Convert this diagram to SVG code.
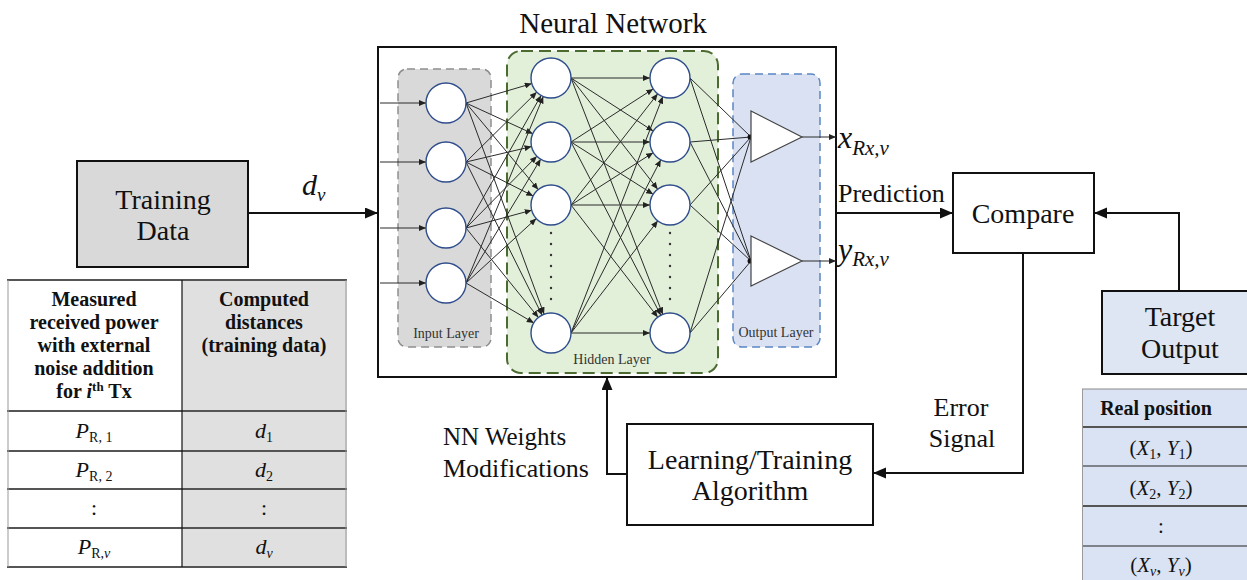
<svg xmlns="http://www.w3.org/2000/svg" width="1247" height="580" viewBox="0 0 1247 580" font-family="'Liberation Serif', 'DejaVu Serif', serif">
<style>
text{font-family:'Liberation Serif','DejaVu Serif',serif}
.t{fill:#111}
.c{text-anchor:middle}
.box{fill:#fff;stroke:#111;stroke-width:2}
.neu{fill:#fff;stroke:#2f4d8c;stroke-width:1.4}
.w{stroke:#2b2b2b;stroke-width:1;fill:none;marker-end:url(#sa)}
.w2{stroke:#2b2b2b;stroke-width:1;fill:none}
.arr{stroke:#111;stroke-width:2;fill:none;marker-end:url(#la)}
.grid{stroke:#555;stroke-width:2}
.lbl{font-size:14px;fill:#333}
.big{font-size:28px}
.hd{font-size:20px;font-weight:bold}
</style>
<defs>
<marker id="sa" markerUnits="userSpaceOnUse" markerWidth="8" markerHeight="6" refX="7" refY="3" orient="auto"><path d="M0,0 L7,3 L0,6 z" fill="#222"/></marker>
<marker id="la" markerUnits="userSpaceOnUse" markerWidth="14" markerHeight="12" refX="13" refY="5.5" orient="auto"><path d="M0,0 L13,5.5 L0,11 z" fill="#111"/></marker>
</defs>

<text class="t c" x="613" y="33" font-size="29">Neural Network</text>

<g id="neural-network">
<rect x="378" y="47" width="458" height="330" class="box"/>
<rect x="398" y="69" width="93" height="278" rx="9" fill="#d9d9d9" stroke="#8e8e8e" stroke-width="1.5" stroke-dasharray="8 5"/>
<rect x="507" y="51" width="211" height="322" rx="14" fill="#e2efd9" stroke="#4b6b30" stroke-width="2" stroke-dasharray="12 6"/>
<rect x="733" y="74" width="87" height="273" rx="9" fill="#d9e1f2" stroke="#5b87c5" stroke-width="1.5" stroke-dasharray="8 5"/>
<text class="t c lbl" x="446" y="338">Input Layer</text>
<text class="t c lbl" x="612" y="364">Hidden Layer</text>
<text class="t c lbl" x="776" y="337">Output Layer</text>
</g>

<g id="nn-weights">
<line class="w" x1="380" y1="103" x2="426" y2="103"/>
<line class="w" x1="380" y1="162" x2="426" y2="162"/>
<line class="w" x1="380" y1="228" x2="426" y2="228"/>
<line class="w" x1="380" y1="283" x2="426" y2="283"/>
<line class="w" x1="466" y1="103" x2="531.8" y2="83.6"/>
<line class="w" x1="466" y1="103" x2="532.8" y2="133.7"/>
<line class="w" x1="466" y1="103" x2="538.2" y2="189.6"/>
<line class="w" x1="466" y1="103" x2="544.1" y2="314.2"/>
<line class="w" x1="466" y1="162" x2="536.8" y2="92.1"/>
<line class="w" x1="466" y1="162" x2="531.5" y2="146.6"/>
<line class="w" x1="466" y1="162" x2="533.2" y2="196.0"/>
<line class="w" x1="466" y1="162" x2="542.1" y2="315.1"/>
<line class="w" x1="466" y1="228" x2="541.1" y2="95.4"/>
<line class="w" x1="466" y1="228" x2="536.9" y2="156.2"/>
<line class="w" x1="466" y1="228" x2="531.7" y2="210.2"/>
<line class="w" x1="466" y1="228" x2="538.4" y2="317.5"/>
<line class="w" x1="466" y1="283" x2="543.3" y2="96.5"/>
<line class="w" x1="466" y1="283" x2="540.7" y2="159.1"/>
<line class="w" x1="466" y1="283" x2="536.3" y2="218.5"/>
<line class="w" x1="466" y1="283" x2="533.8" y2="322.9"/>
<line class="w" x1="571" y1="78" x2="650" y2="78"/>
<line class="w" x1="571" y1="78" x2="653.2" y2="131.1"/>
<line class="w" x1="571" y1="78" x2="657.7" y2="189.2"/>
<line class="w" x1="571" y1="78" x2="662.8" y2="314.4"/>
<line class="w" x1="571" y1="142" x2="653.2" y2="88.9"/>
<line class="w" x1="571" y1="142" x2="650" y2="142"/>
<line class="w" x1="571" y1="142" x2="653.1" y2="194.3"/>
<line class="w" x1="571" y1="142" x2="660.8" y2="315.2"/>
<line class="w" x1="571" y1="205" x2="657.7" y2="93.8"/>
<line class="w" x1="571" y1="205" x2="653.1" y2="152.7"/>
<line class="w" x1="571" y1="205" x2="650" y2="205"/>
<line class="w" x1="571" y1="205" x2="657.8" y2="317.2"/>
<line class="w" x1="571" y1="333" x2="662.8" y2="96.6"/>
<line class="w" x1="571" y1="333" x2="660.8" y2="159.8"/>
<line class="w" x1="571" y1="333" x2="657.8" y2="220.8"/>
<line class="w" x1="571" y1="333" x2="650" y2="333"/>
<line class="w2" x1="690" y1="78" x2="751" y2="137"/>
<line class="w2" x1="690" y1="142" x2="751" y2="137"/>
<line class="w2" x1="690" y1="205" x2="751" y2="137"/>
<line class="w2" x1="690" y1="333" x2="751" y2="137"/>
<line class="w2" x1="690" y1="78" x2="751" y2="261"/>
<line class="w2" x1="690" y1="142" x2="751" y2="261"/>
<line class="w2" x1="690" y1="205" x2="751" y2="261"/>
<line class="w2" x1="690" y1="333" x2="751" y2="261"/>
<circle cx="750" cy="137" r="2.5" fill="#111"/>
<circle cx="750" cy="261" r="2.5" fill="#111"/>
<line class="w" x1="802" y1="137" x2="836" y2="137"/>
<line class="w" x1="802" y1="261" x2="836" y2="261"/>
</g>

<g id="input-layer-nodes">
<circle class="neu" cx="446" cy="103" r="20"/>
<circle class="neu" cx="446" cy="162" r="20"/>
<circle class="neu" cx="446" cy="228" r="20"/>
<circle class="neu" cx="446" cy="283" r="20"/>
</g>
<g id="hidden-layer-1">
<circle class="neu" cx="551" cy="78" r="20"/>
<circle class="neu" cx="551" cy="142" r="20"/>
<circle class="neu" cx="551" cy="205" r="20"/>
<circle class="neu" cx="551" cy="333" r="20"/>
<g fill="#333"><circle cx="551" cy="233" r="1.2"/><circle cx="551" cy="244" r="1.2"/><circle cx="551" cy="255" r="1.2"/><circle cx="551" cy="266" r="1.2"/><circle cx="551" cy="277" r="1.2"/><circle cx="551" cy="288" r="1.2"/><circle cx="551" cy="299" r="1.2"/></g>
</g>
<g id="hidden-layer-2">
<circle class="neu" cx="670" cy="78" r="20"/>
<circle class="neu" cx="670" cy="142" r="20"/>
<circle class="neu" cx="670" cy="205" r="20"/>
<circle class="neu" cx="670" cy="333" r="20"/>
<g fill="#333"><circle cx="670" cy="233" r="1.2"/><circle cx="670" cy="244" r="1.2"/><circle cx="670" cy="255" r="1.2"/><circle cx="670" cy="266" r="1.2"/><circle cx="670" cy="277" r="1.2"/><circle cx="670" cy="288" r="1.2"/><circle cx="670" cy="299" r="1.2"/></g>
</g>
<g id="output-nodes">
<polygon points="751,111 802,137 751,162" fill="#fff" stroke="#444" stroke-width="1.2"/>
<polygon points="751,236 802,261 751,286" fill="#fff" stroke="#444" stroke-width="1.2"/>
</g>

<g id="output-labels">
<text class="t" x="838" y="148" font-size="32" font-style="italic">x<tspan font-size="21" dy="7">Rx,ν</tspan></text>
<text class="t" x="838" y="260" font-size="32" font-style="italic">y<tspan font-size="21" dy="6">Rx,ν</tspan></text>
</g>

<g id="training-data">
<rect x="77" y="161" width="171" height="106" fill="#d9d9d9" stroke="#111" stroke-width="2"/>
<text class="t c big" x="163" y="209">Training</text>
<text class="t c big" x="163" y="240">Data</text>
</g>

<g id="compare">
<rect x="953" y="173" width="141" height="80" class="box"/>
<text class="t c big" x="1023" y="223">Compare</text>
</g>

<g id="target-output">
<rect x="1102" y="291" width="150" height="83" fill="#dee6f3" stroke="#111" stroke-width="2"/>
<text class="t c big" x="1180" y="326">Target</text>
<text class="t c big" x="1180" y="358">Output</text>
</g>

<g id="learning-algorithm">
<rect x="627" y="424" width="246" height="101" class="box"/>
<text class="t c big" x="750" y="469">Learning/Training</text>
<text class="t c big" x="750" y="500">Algorithm</text>
</g>

<g id="connectors">
<line class="arr" x1="248" y1="213" x2="378" y2="213"/>
<line class="arr" x1="836" y1="213" x2="953" y2="213"/>
<polyline class="arr" points="1179,291 1179,213 1094,213"/>
<polyline class="arr" points="1023,253 1023,473 873,473"/>
<polyline class="arr" points="627,474 607,474 607,377"/>
</g>

<g id="connector-labels">
<text class="t" x="302" y="195" font-size="30" font-style="italic">d<tspan font-size="19" dy="6">ν</tspan></text>
<text class="t" x="838" y="202" font-size="26">Prediction</text>
<text class="t c" x="961" y="416" font-size="26">Error</text>
<text class="t c" x="962" y="447" font-size="26">Signal</text>
<text class="t" x="443" y="445" font-size="25">NN Weights</text>
<text class="t" x="443" y="477" font-size="26">Modifications</text>
</g>

<g id="training-table">
<rect x="7" y="280" width="175" height="287" fill="#fff"/>
<rect x="182" y="280" width="165" height="287" fill="#e0e0e0"/>
<g class="grid">
<line x1="7" y1="280" x2="347" y2="280"/>
<line x1="7" y1="411" x2="347" y2="411"/>
<line x1="7" y1="451" x2="347" y2="451"/>
<line x1="7" y1="489" x2="347" y2="489"/>
<line x1="7" y1="528" x2="347" y2="528"/>
<line x1="7" y1="567" x2="347" y2="567"/>
<line x1="8" y1="280" x2="8" y2="567" stroke="#999" stroke-width="1"/>
<line x1="346" y1="280" x2="346" y2="567" stroke="#999" stroke-width="1"/>
</g>
<line x1="182" y1="280" x2="182" y2="567" stroke="#111" stroke-width="1.2"/>
<text class="t c hd" x="94" y="306">Measured</text>
<text class="t c hd" x="94" y="329">received power</text>
<text class="t c hd" x="94" y="352">with external</text>
<text class="t c hd" x="94" y="375">noise addition</text>
<text class="t c hd" x="94" y="398">for <tspan font-style="italic">i</tspan><tspan font-size="13" dy="-7">th</tspan><tspan dy="7"> Tx</tspan></text>
<text class="t c hd" x="264" y="306">Computed</text>
<text class="t c hd" x="264" y="329">distances</text>
<text class="t c hd" x="264" y="352">(training data)</text>
<text class="t c" x="94" y="438" font-size="22"><tspan font-style="italic">P</tspan><tspan font-size="14" dy="4">R, 1</tspan></text>
<text class="t c" x="94" y="477" font-size="22"><tspan font-style="italic">P</tspan><tspan font-size="14" dy="4">R, 2</tspan></text>
<text class="t c" x="94" y="515" font-size="22">:</text>
<text class="t c" x="94" y="554" font-size="22"><tspan font-style="italic">P</tspan><tspan font-size="14" dy="4">R,<tspan font-style="italic">ν</tspan></tspan></text>
<text class="t c" x="264" y="438" font-size="22"><tspan font-style="italic">d</tspan><tspan font-size="14" dy="4">1</tspan></text>
<text class="t c" x="264" y="477" font-size="22"><tspan font-style="italic">d</tspan><tspan font-size="14" dy="4">2</tspan></text>
<text class="t c" x="264" y="515" font-size="22">:</text>
<text class="t c" x="264" y="554" font-size="22"><tspan font-style="italic">d</tspan><tspan font-size="14" dy="4" font-style="italic">ν</tspan></text>
</g>

<g id="real-position-table">
<rect x="1082" y="389" width="170" height="195" fill="#dae3f3"/>
<g class="grid">
<line x1="1082" y1="389" x2="1247" y2="389" stroke="#888" stroke-width="1"/>
<line x1="1082" y1="427" x2="1247" y2="427"/>
<line x1="1082" y1="466" x2="1247" y2="466" stroke="#222" stroke-width="1.2"/>
<line x1="1082" y1="506" x2="1247" y2="506"/>
<line x1="1082" y1="546" x2="1247" y2="546" stroke="#222" stroke-width="1.2"/>
<line x1="1082.5" y1="389" x2="1082.5" y2="580" stroke="#999" stroke-width="1"/>
</g>
<text class="t c" x="1156" y="415" font-size="20" font-weight="bold">Real position</text>
<text class="t c" x="1161" y="455" font-size="21">(<tspan font-style="italic">X</tspan><tspan font-size="14" dy="4">1</tspan><tspan dy="-4">, </tspan><tspan font-style="italic">Y</tspan><tspan font-size="14" dy="4">1</tspan><tspan dy="-4">)</tspan></text>
<text class="t c" x="1161" y="495" font-size="21">(<tspan font-style="italic">X</tspan><tspan font-size="14" dy="4">2</tspan><tspan dy="-4">, </tspan><tspan font-style="italic">Y</tspan><tspan font-size="14" dy="4">2</tspan><tspan dy="-4">)</tspan></text>
<text class="t c" x="1161" y="533" font-size="21">:</text>
<text class="t c" x="1161" y="572" font-size="21">(<tspan font-style="italic">X</tspan><tspan font-size="14" dy="4" font-style="italic">ν</tspan><tspan dy="-4">, </tspan><tspan font-style="italic">Y</tspan><tspan font-size="14" dy="4" font-style="italic">ν</tspan><tspan dy="-4">)</tspan></text>
</g>
</svg>
